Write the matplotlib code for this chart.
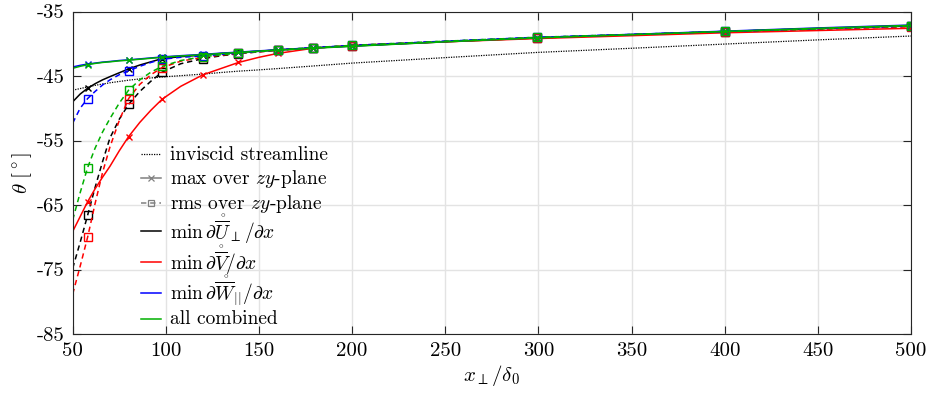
import matplotlib
matplotlib.use("Agg")
import matplotlib.pyplot as plt
from matplotlib.lines import Line2D

plt.rcParams.update({
    "font.family": "serif",
    "font.serif": ["cmr10"],
    "mathtext.fontset": "cm",
    "axes.unicode_minus": False,
    "axes.formatter.use_mathtext": False,
})

# streamwise stations (x_perp / delta_0)
x = [50, 54, 58, 62, 66, 70, 75, 80, 86, 92, 98, 108, 120, 130, 139, 150,
     160, 179, 200, 250, 299, 350, 400, 450, 500]
# stations where the profiles were evaluated (indices into x)
stations = [2, 7, 10, 12, 14, 16, 17, 18, 20, 22, 24]

# inviscid streamline angle
inviscid = [-47.2, -46.95, -46.7, -46.45, -46.25, -46.05, -45.85, -45.65, -45.45,
            -45.3, -45.15, -44.95, -44.7, -44.45, -44.25, -44.05, -43.85, -43.45,
            -43.0, -42.15, -41.35, -40.7, -40.05, -39.4, -38.8]

# angle from the maximum over the zy-plane
max_U = [-49.0, -47.8, -46.9, -46.2, -45.6, -45.1, -44.5, -43.9, -43.3, -42.8,
         -42.3, -42.0, -41.75, -41.5, -41.35, -41.15, -40.95, -40.65, -40.35,
         -39.7, -39.1, -38.6, -38.1, -37.65, -37.2]
max_V = [-69.1, -66.8, -64.5, -62.5, -60.7, -59.0, -56.6, -54.4, -52.2, -50.3,
         -48.6, -46.6, -44.8, -43.8, -42.9, -42.1, -41.5, -40.7, -40.25, -39.7,
         -39.2, -38.75, -38.3, -37.95, -37.6]
max_W = [-43.6, -43.35, -43.15, -43.0, -42.85, -42.75, -42.6, -42.5, -42.35,
         -42.2, -42.05, -41.85, -41.65, -41.45, -41.3, -41.1, -40.95, -40.65,
         -40.35, -39.65, -39.05, -38.55, -38.05, -37.55, -37.1]
max_all = [-43.8, -43.5, -43.25, -43.05, -42.9, -42.8, -42.65, -42.55, -42.4,
           -42.25, -42.1, -41.9, -41.7, -41.5, -41.35, -41.15, -41.0, -40.7,
           -40.4, -39.7, -39.1, -38.6, -38.1, -37.6, -37.15]

# angle from the rms over the zy-plane
rms_U = [-74.8, -70.8, -66.6, -62.3, -58.3, -54.6, -51.7, -49.4, -47.4, -45.8,
         -44.4, -43.1, -42.3, -41.85, -41.55, -41.25, -41.0, -40.65, -40.3,
         -39.65, -39.05, -38.6, -38.15, -37.7, -37.3]
rms_V = [-78.8, -74.5, -70.0, -64.8, -60.0, -56.0, -51.9, -48.5, -46.3, -44.8,
         -43.7, -42.7, -42.1, -41.75, -41.5, -41.25, -41.0, -40.65, -40.3,
         -39.65, -39.1, -38.6, -38.15, -37.75, -37.35]
rms_W = [-52.3, -50.0, -48.5, -47.4, -46.4, -45.6, -44.8, -44.2, -43.5, -42.9,
         -42.4, -42.1, -41.9, -41.65, -41.45, -41.2, -40.95, -40.6, -40.25,
         -39.6, -39.0, -38.55, -38.1, -37.65, -37.25]
rms_all = [-67.3, -63.1, -59.2, -56.2, -53.7, -51.6, -49.2, -47.2, -45.6, -44.4,
           -43.5, -42.6, -42.0, -41.7, -41.45, -41.2, -40.95, -40.6, -40.25,
           -39.6, -39.0, -38.55, -38.1, -37.7, -37.25]

colors = {"U": "black", "V": "#ff0000", "W": "#0000ff", "all": "#00b000"}
labels = {
    "U": r"$\mathrm{min}\,\partial\mathring{\overline{U}}_\perp/\partial x$",
    "V": r"$\mathrm{min}\,\partial\mathring{\overline{V}}/\partial x$",
    "W": r"$\mathrm{min}\,\partial\mathring{\overline{W}}_{||}/\partial x$",
    "all": "all combined",
}
series = [("U", max_U, rms_U), ("V", max_V, rms_V),
          ("W", max_W, rms_W), ("all", max_all, rms_all)]

W, H = 928, 401
fig = plt.figure(figsize=(W / 100, H / 100), dpi=100)
ax = fig.add_axes([72.7 / W, 1 - 334 / H, (911 - 72.7) / W, (334 - 11.5) / H])

dotted = (0, (1, 1))
dashed = (0, (3.5, 2.5))
ax.plot(x, inviscid, color="black", ls=dotted, lw=0.9)
for key, ymax, yrms in series:
    c = colors[key]
    ax.plot(x, ymax, color=c, lw=1.1, marker="x", markevery=stations,
            markersize=5, markeredgewidth=1.0)
    ax.plot(x, yrms, color=c, lw=1.1, ls=dashed, marker="s",
            markevery=stations, markersize=6, markerfacecolor="none",
            markeredgewidth=1.0)

ax.set_xlim(50, 500)
ax.set_ylim(-85, -35)
ax.set_xticks(range(50, 501, 50))
ax.set_yticks(range(-85, -34, 10))
ax.grid(True, color="#e3e3e3", lw=1.0)
ax.set_axisbelow(True)
for s in ax.spines.values():
    s.set_color("#262626")
    s.set_linewidth(0.8)
ax.tick_params(direction="in", top=True, right=True, length=6, width=0.8,
               color="#262626", labelsize=15, pad=6)
ax.set_xlabel(r"$x_\perp/\delta_0$", fontsize=15, labelpad=2)
ax.set_ylabel(r"$\theta\ [^\circ]$", fontsize=15, labelpad=2)

# legend drawn row by row; rows with accented symbols get more room
gray = "#808080"
legend_rows = [
    (dict(color="black", ls=dotted, lw=0.9), "inviscid streamline"),
    (dict(color=gray, lw=1.1), r"max over $zy$-plane"),
    (dict(color=gray, lw=1.1, ls=dashed), r"rms over $zy$-plane"),
] + [(dict(color=colors[k], lw=1.1), labels[k]) for k in ("U", "V", "W", "all")]
row_markers = [None, "x", "s", None, None, None, None]
row_y = [154.0, 178.3, 203.3, 231.0, 262.0, 292.5, 318.5]
row_base = [5.5, 5.5, 5.5, 8.0, 8.0, 8.0, 5.5]

x0, x1, xt = 141.5, 161.0, 170.0
for (style, text), mk, yc, db in zip(legend_rows, row_markers, row_y, row_base):
    fy = 1 - yc / H
    fig.add_artist(Line2D([x0 / W, x1 / W], [fy, fy], transform=fig.transFigure,
                          **style))
    if mk is not None:
        fig.add_artist(Line2D([(x0 + x1) / 2 / W], [fy], transform=fig.transFigure,
                              color=gray, marker=mk, markersize=4.5,
                              markerfacecolor="none", markeredgewidth=0.9))
    fig.text(xt / W, 1 - (yc + db) / H, text, fontsize=14, ha="left",
             va="baseline")

fig.savefig("out.png", dpi=100)
